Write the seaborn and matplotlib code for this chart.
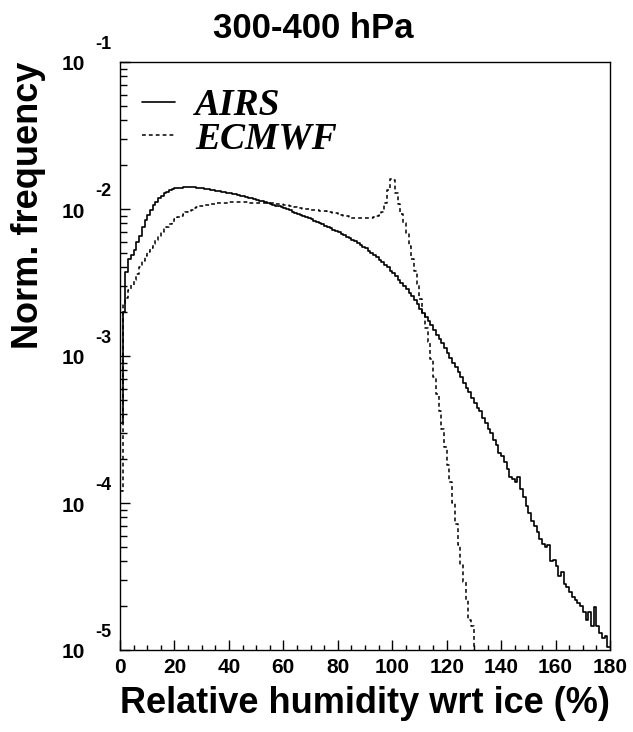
import numpy as np
import pandas as pd
import matplotlib
matplotlib.use("Agg")
import matplotlib.pyplot as plt
import matplotlib.transforms as mtransforms
from matplotlib.ticker import LogLocator, MultipleLocator, NullFormatter
import seaborn as sns

# 1 % RHi bins, 0 - 180 %
rh_centers = np.arange(0, 180, 1) + 0.5

# normalised frequency per bin, in units of 1e-3
airs_e3 = [
    0.35, 2.0, 3.7, 4.6, 4.9, 5.3, 6.0, 6.6, 7.6, 8.4,
    9.1, 9.8, 10.6, 11.2, 11.8, 12.3, 12.8, 13.1, 13.4, 13.6,
    13.8, 13.9, 14.0, 14.05, 14.1, 14.1, 14.1, 14.05, 14.0, 13.9,
    13.8, 13.7, 13.6, 13.5, 13.4, 13.3, 13.2, 13.1, 13.0, 12.9,
    12.8, 12.7, 12.6, 12.45, 12.3, 12.2, 12.1, 11.95, 11.8, 11.7,
    11.55, 11.4, 11.3, 11.15, 11.0, 10.85, 10.7, 10.55, 10.4, 10.25,
    10.1, 9.95, 9.8, 9.6, 9.45, 9.3, 9.15, 9.0, 8.85, 8.7,
    8.5, 8.35, 8.2, 8.05, 7.9, 7.7, 7.55, 7.4, 7.25, 7.1,
    6.95, 6.8, 6.65, 6.5, 6.35, 6.2, 6.05, 5.9, 5.7, 5.55,
    5.4, 5.2, 5.05, 4.85, 4.7, 4.5, 4.35, 4.15, 4.0, 3.8,
    3.65, 3.5, 3.3, 3.15, 3.0, 2.85, 2.7, 2.55, 2.4, 2.25,
    2.1, 1.97, 1.85, 1.73, 1.62, 1.5, 1.4, 1.3, 1.22, 1.13,
    1.05, 0.97, 0.90, 0.84, 0.78, 0.72, 0.66, 0.61, 0.57, 0.52,
    0.48, 0.44, 0.42, 0.38, 0.35, 0.32, 0.30, 0.27, 0.25, 0.22,
    0.21, 0.19, 0.17, 0.15, 0.145, 0.14, 0.15, 0.125, 0.11, 0.095,
    0.085, 0.075, 0.07, 0.063, 0.057, 0.053, 0.05, 0.052, 0.04, 0.041,
    0.037, 0.032, 0.034, 0.028, 0.027, 0.025, 0.023, 0.022, 0.021, 0.02,
    0.018, 0.016, 0.018, 0.0145, 0.0195, 0.0145, 0.013, 0.012, 0.0125, 0.0105,
]
ecmwf_e3 = [
    0.12, 2.3, 2.5, 2.8, 3.05, 3.3, 3.6, 4.0, 4.4, 4.8,
    5.1, 5.4, 5.8, 6.2, 6.6, 7.0, 7.3, 7.6, 7.9, 8.2,
    8.5, 8.8, 9.0, 9.3, 9.5, 9.7, 9.9, 10.1, 10.25, 10.4,
    10.5, 10.6, 10.7, 10.8, 10.85, 10.9, 10.95, 11.0, 11.05, 11.05,
    11.1, 11.1, 11.1, 11.1, 11.1, 11.1, 11.1, 11.05, 11.05, 11.05,
    11.0, 11.0, 11.0, 11.0, 10.95, 10.95, 10.9, 10.85, 10.8, 10.75,
    10.7, 10.6, 10.5, 10.4, 10.3, 10.2, 10.1, 10.05, 10.0, 9.95,
    9.9, 9.85, 9.8, 9.75, 9.7, 9.65, 9.6, 9.55, 9.45, 9.35,
    9.2, 9.1, 9.0, 8.9, 8.85, 8.75, 8.7, 8.7, 8.65, 8.65,
    8.7, 8.7, 8.75, 8.8, 8.9, 9.1, 9.6, 11.0, 13.5, 15.9,
    15.7, 12.9, 10.8, 9.3, 8.0, 6.9, 5.6, 4.6, 3.8, 3.1,
    2.45, 1.95, 1.55, 1.25, 0.95, 0.72, 0.55, 0.42, 0.32, 0.24,
    0.18, 0.14, 0.10, 0.072, 0.052, 0.038, 0.029, 0.022, 0.016, 0.0145,
] + [0.0] * 50

series_names = ["AIRS", "ECMWF"]
x_ticks = [0, 20, 40, 60, 80, 100, 120, 140, 160, 180]
y_exponents = [-5, -4, -3, -2, -1]

df = pd.DataFrame({
    "rh": np.concatenate([rh_centers, rh_centers]),
    "freq": np.array(airs_e3 + ecmwf_e3) * 1e-3,
    "source": [series_names[0]] * 180 + [series_names[1]] * 180,
})

sns.set_style("ticks")
plt.rcParams["font.family"] = ["Liberation Sans", "DejaVu Sans"]
plt.rcParams["font.weight"] = "bold"
plt.rcParams["axes.labelweight"] = "bold"
plt.rcParams["text.color"] = "black"
plt.rcParams["axes.labelcolor"] = "black"
plt.rcParams["xtick.color"] = "black"
plt.rcParams["ytick.color"] = "black"

fig = plt.figure(figsize=(6.33, 7.32), dpi=100)
ax = fig.add_axes([120 / 633, 82 / 732, 490 / 633, 588 / 732])

sns.histplot(data=df[df["source"] == "AIRS"], x="rh", weights="freq",
             binwidth=1, binrange=(0, 180),
             element="step", fill=False, color="black", linewidth=1.2, ax=ax)
sns.histplot(data=df[df["source"] == "ECMWF"], x="rh", weights="freq",
             binwidth=1, binrange=(0, 180),
             element="step", fill=False, color="black", linewidth=1.1,
             linestyle=(0, (2.5, 2)), ax=ax)

ax.set_yscale("log")
ax.set_xlim(0, 180)
ax.set_ylim(1e-5, 1e-1)

for sp in ax.spines.values():
    sp.set_linewidth(1.0)
    sp.set_color("black")

# x axis
ax.set_xticks(x_ticks)
ax.set_xticklabels([str(t) for t in x_ticks], fontsize=15, fontweight="bold")
ax.xaxis.set_minor_locator(MultipleLocator(5))
ax.tick_params(axis="x", which="major", direction="in", length=7, width=1, pad=6, top=False)
ax.tick_params(axis="x", which="minor", direction="in", length=3.5, width=1, top=False)

# y axis: ROOT-like labels drawn by hand
ax.yaxis.set_major_locator(LogLocator(base=10, numticks=10))
ax.yaxis.set_minor_locator(LogLocator(base=10, subs=np.arange(2, 10), numticks=20))
ax.yaxis.set_minor_formatter(NullFormatter())
ax.tick_params(axis="y", which="major", direction="in", length=7.5, width=1, labelleft=False, right=False)
ax.tick_params(axis="y", which="minor", direction="in", length=5, width=1, right=False)

trans = mtransforms.blended_transform_factory(ax.transAxes, ax.transData)
base_trans = mtransforms.offset_copy(trans, fig=fig, x=0, y=-3, units="dots")
exp_trans = mtransforms.offset_copy(trans, fig=fig, x=0, y=9, units="dots")
for k in y_exponents:
    ax.text(-0.071, 10.0 ** k, "10", transform=base_trans, ha="right", va="center",
            fontsize=15, fontweight="bold")
    ax.text(-0.051, 10.0 ** k, str(k), transform=exp_trans, ha="left", va="bottom",
            fontsize=13, fontweight="bold")

ax.set_xlabel("Relative humidity wrt ice (%)", fontsize=26, fontweight="bold", loc="right")
ax.xaxis.set_label_coords(1.0, -0.061)
ax.set_ylabel("Norm. frequency", fontsize=26, fontweight="bold", loc="top")
ax.yaxis.set_label_coords(-0.15, 1.0)

fig.text(313 / 633, 1 - 28 / 732, "300-400 hPa", ha="center", va="center",
         fontsize=25, fontweight="bold")

leg = ax.legend(handles=ax.lines[:2], labels=series_names, loc="upper left",
                bbox_to_anchor=(22 / 490, 1 - 26 / 588), frameon=False,
                borderpad=0, borderaxespad=0, handlelength=0.88, handletextpad=0.53,
                labelspacing=-0.05,
                prop={"family": "Liberation Serif", "weight": "bold", "style": "italic", "size": 27})

fig.savefig("out.png", dpi=100)
